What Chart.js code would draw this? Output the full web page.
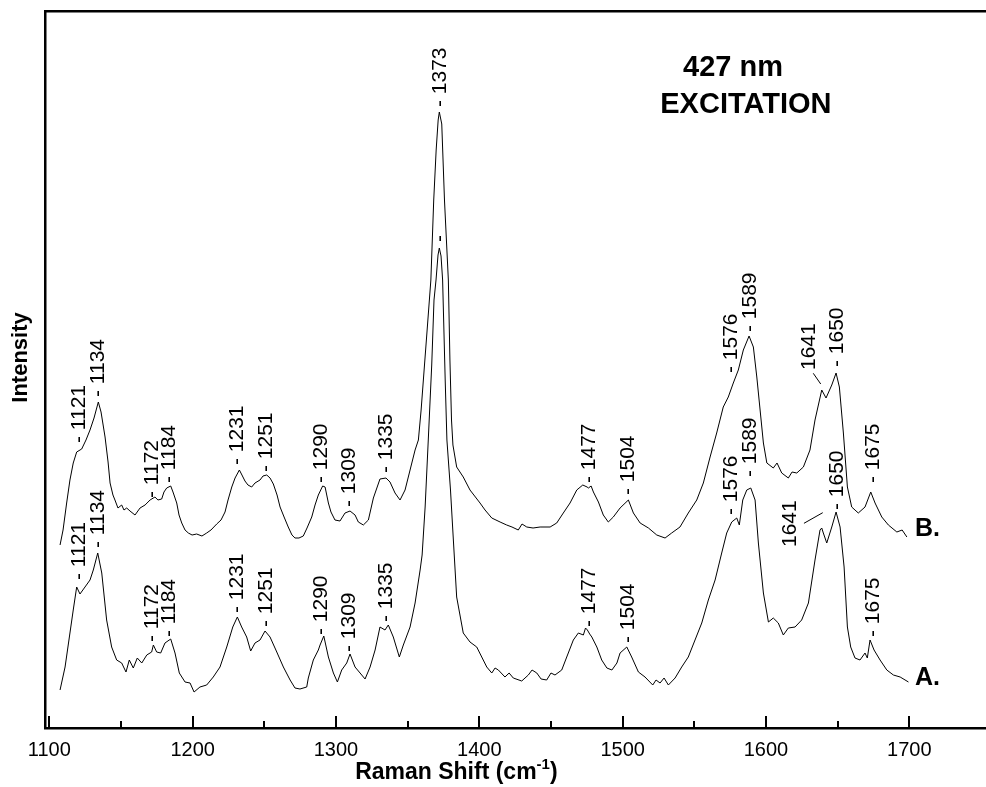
<!DOCTYPE html>
<html>
<head>
<meta charset="utf-8">
<script src="https://cdn.jsdelivr.net/npm/chart.js@4.4.1/dist/chart.umd.min.js"></script>
<style>
  html, body { margin: 0; padding: 0; background: #fff; }
  #wrap { width: 986px; height: 787px; position: relative; }
</style>
</head>
<body>
<div id="wrap"><canvas id="chart"></canvas></div>
<script>
const FONT = "'Liberation Sans', Arial, sans-serif";

// spectrum B (upper trace)
const B_SHIFT = [1107.5, 1109.6, 1112.1, 1114.4, 1116.7, 1119.1, 1122.6, 1125.6, 1128.4, 1131.2, 1134.2, 1136.1, 1138.9, 1141.0, 1142.4, 1144.4, 1145.8, 1147.9, 1150.5, 1152.1, 1154.0, 1156.3, 1159.8, 1163.3, 1166.8, 1170.3, 1173.7, 1175.8, 1178.4, 1180.0, 1181.9, 1184.7, 1186.3, 1188.9, 1190.5, 1192.4, 1194.7, 1197.0, 1199.6, 1202.8, 1206.5, 1209.8, 1212.8, 1216.8, 1219.8, 1222.6, 1224.7, 1227.3, 1229.6, 1232.6, 1234.4, 1236.5, 1238.6, 1241.2, 1243.5, 1247.0, 1249.1, 1251.7, 1254.0, 1256.3, 1258.9, 1261.0, 1263.8, 1266.7, 1269.3, 1271.4, 1274.2, 1277.2, 1279.8, 1283.1, 1285.4, 1287.7, 1290.7, 1292.4, 1294.7, 1296.5, 1299.3, 1302.8, 1306.3, 1309.8, 1313.3, 1315.6, 1319.1, 1322.6, 1326.1, 1330.7, 1334.9, 1337.7, 1341.2, 1344.7, 1348.2, 1351.7, 1355.2, 1357.5, 1359.4, 1361.5, 1363.6, 1366.2, 1368.2, 1369.9, 1371.3, 1372.1, 1373.8, 1375.7, 1378.4, 1379.5, 1380.6, 1381.6, 1384.2, 1388.8, 1393.5, 1400.5, 1404.0, 1408.7, 1414.5, 1419.1, 1422.8, 1427.2, 1429.8, 1433.1, 1437.5, 1442.4, 1449.4, 1454.0, 1458.6, 1463.3, 1468.0, 1472.2, 1475.2, 1476.1, 1478.0, 1479.6, 1483.1, 1486.5, 1490.0, 1493.5, 1498.2, 1504.0, 1507.5, 1512.2, 1518.0, 1523.8, 1529.6, 1534.2, 1540.0, 1545.8, 1551.7, 1556.3, 1561.0, 1565.6, 1570.2, 1573.7, 1577.2, 1580.7, 1584.2, 1588.2, 1591.2, 1593.6, 1595.9, 1598.2, 1600.6, 1605.1, 1607.7, 1611.0, 1615.6, 1618.2, 1621.5, 1626.1, 1630.7, 1634.2, 1638.9, 1641.9, 1645.9, 1648.9, 1651.2, 1654.0, 1656.8, 1659.8, 1664.4, 1669.1, 1673.1, 1676.1, 1680.8, 1685.4, 1691.3, 1695.0, 1698.3];
const B_INTENSITY = [183, 198, 225, 248, 265, 276, 279, 288, 298, 310, 326, 316, 291, 266, 245, 233, 228, 220, 223, 218, 220, 217, 213, 220, 223, 228, 231, 228, 229, 236, 240, 242, 236, 225, 213, 205, 198, 195, 193, 194, 192, 195, 198, 204, 208, 216, 228, 241, 250, 258, 253, 247, 243, 241, 245, 248, 252, 253, 250, 244, 233, 221, 211, 201, 193, 190, 190, 192, 200, 211, 223, 233, 242, 241, 225, 216, 208, 207, 215, 217, 213, 206, 203, 208, 230, 249, 250, 246, 235, 228, 238, 258, 278, 288, 318, 358, 398, 448, 528, 578, 608, 616, 604, 528, 448, 368, 308, 283, 261, 251, 238, 225, 218, 210, 206, 203, 201, 198, 204, 201, 200, 201, 201, 205, 215, 225, 238, 243, 241, 240, 242, 236, 226, 213, 206, 211, 220, 228, 215, 205, 200, 193, 190, 195, 201, 215, 228, 245, 271, 295, 321, 331, 345, 358, 378, 392, 381, 351, 318, 285, 265, 260, 265, 255, 250, 256, 255, 261, 278, 308, 338, 330, 343, 355, 341, 295, 241, 221, 215, 221, 236, 225, 211, 203, 196, 198, 191];

// spectrum A (lower trace)
const A_SHIFT = [1107.5, 1111.0, 1114.4, 1116.7, 1119.1, 1121.4, 1124.9, 1128.4, 1130.7, 1133.8, 1136.6, 1140.0, 1143.5, 1147.0, 1150.5, 1153.5, 1155.8, 1158.6, 1161.4, 1164.5, 1168.0, 1171.4, 1172.6, 1174.9, 1177.7, 1180.7, 1184.7, 1187.7, 1190.7, 1194.7, 1198.2, 1201.0, 1205.1, 1209.8, 1214.4, 1219.1, 1223.8, 1228.0, 1231.2, 1234.2, 1237.7, 1240.5, 1243.5, 1247.0, 1250.5, 1254.0, 1258.7, 1263.3, 1268.0, 1271.4, 1274.9, 1279.6, 1280.7, 1284.2, 1287.7, 1288.9, 1291.5, 1294.7, 1298.2, 1301.0, 1304.0, 1307.5, 1309.8, 1313.3, 1316.8, 1320.3, 1323.8, 1327.3, 1330.7, 1334.2, 1336.5, 1340.0, 1344.2, 1347.0, 1351.7, 1355.2, 1358.7, 1360.1, 1362.2, 1364.4, 1366.8, 1368.4, 1369.8, 1371.2, 1372.1, 1373.3, 1374.4, 1376.2, 1377.4, 1379.9, 1381.9, 1384.2, 1388.8, 1393.5, 1398.2, 1401.7, 1405.2, 1408.7, 1411.0, 1413.3, 1417.9, 1420.8, 1423.7, 1429.6, 1434.2, 1436.8, 1440.1, 1443.1, 1447.0, 1450.0, 1452.8, 1457.5, 1461.0, 1465.6, 1469.1, 1472.6, 1474.1, 1475.4, 1477.0, 1478.5, 1482.0, 1485.4, 1489.0, 1492.5, 1496.0, 1498.2, 1502.9, 1506.3, 1511.0, 1515.6, 1521.0, 1523.3, 1526.1, 1528.9, 1531.9, 1536.6, 1541.2, 1545.8, 1550.5, 1555.2, 1559.8, 1564.5, 1569.1, 1572.6, 1576.1, 1579.6, 1581.4, 1583.8, 1586.6, 1589.4, 1592.4, 1594.7, 1598.2, 1601.7, 1605.1, 1608.6, 1612.1, 1615.6, 1620.3, 1624.9, 1629.6, 1634.2, 1637.7, 1638.9, 1640.0, 1642.4, 1645.9, 1648.9, 1651.7, 1654.5, 1656.8, 1659.1, 1662.1, 1665.6, 1669.1, 1670.7, 1672.6, 1675.4, 1679.6, 1684.3, 1688.9, 1693.6, 1699.4];
const A_INTENSITY = [38, 61, 95, 118, 141, 134, 141, 148, 158, 175, 155, 108, 81, 68, 65, 56, 68, 60, 70, 65, 73, 76, 83, 76, 75, 85, 89, 75, 55, 46, 45, 36, 41, 43, 51, 61, 81, 101, 111, 101, 91, 77, 85, 88, 97, 91, 76, 61, 48, 40, 39, 41, 50, 68, 78, 83, 92, 71, 55, 46, 58, 65, 74, 61, 55, 49, 61, 78, 101, 98, 103, 91, 71, 83, 101, 125, 158, 173, 221, 288, 363, 428, 448, 473, 480, 472, 448, 348, 288, 238, 188, 131, 95, 86, 81, 71, 61, 55, 60, 58, 51, 55, 50, 47, 53, 58, 55, 49, 48, 55, 53, 58, 71, 88, 95, 93, 100, 98, 94, 91, 81, 68, 60, 58, 65, 75, 81, 71, 56, 51, 43, 48, 45, 50, 43, 50, 61, 71, 88, 105, 128, 148, 175, 195, 206, 210, 203, 228, 238, 240, 228, 185, 135, 106, 110, 105, 93, 100, 101, 108, 125, 168, 198, 200, 195, 185, 201, 216, 201, 161, 101, 81, 70, 68, 75, 70, 88, 78, 68, 58, 53, 51, 46];

const MAJOR_TICKS = [1100, 1200, 1300, 1400, 1500, 1600, 1700];
const MINOR_TICKS = [1150, 1250, 1350, 1450, 1550, 1650];

// peak labels: band position and the height the label starts at
const B_PEAKS = [1121, 1134, 1172, 1184, 1231, 1251, 1290, 1309, 1335, 1373, 1477, 1504, 1576, 1589, 1650, 1675];
const B_LABEL_LEVEL = [285, 331, 230, 245, 263, 256, 245, 221, 255, 621, 245, 233, 355, 396, 361, 245];
const A_PEAKS = [1121, 1134, 1172, 1184, 1231, 1251, 1290, 1309, 1335, 1373, 1477, 1504, 1576, 1589, 1650, 1675];
const A_LABEL_LEVEL = [148, 180, 86, 91, 115, 101, 93, 76, 106, 486, 101, 85, 213, 251, 218, 91];
const A_DASH_ONLY = [1373];

// 1641 labels sit aside, joined to the band by a short line
const LEADERS = [
  { text: '1641', at: [1630.2, 358], from: [1633.0, 354.7], to: [1638.2, 344] },
  { text: '1641', at: [1616.8, 181], from: [1626.5, 204.7], to: [1639.6, 215.3] },
];

const toPoints = (xs, ys) => xs.map((v, i) => ({ x: v, y: ys[i] }));

const decor = {
  id: 'decor',
  afterDraw(chart) {
    const { ctx, chartArea, scales: { x, y } } = chart;
    ctx.save();
    ctx.fillStyle = '#000';
    ctx.strokeStyle = '#000';

    // inward ticks on the bottom axis
    ctx.lineWidth = 2;
    const base = chartArea.bottom;
    const tick = (v, len) => {
      const px = Math.round(x.getPixelForValue(v));
      ctx.beginPath();
      ctx.moveTo(px, base);
      ctx.lineTo(px, base - len);
      ctx.stroke();
    };
    MAJOR_TICKS.forEach((v) => tick(v, 12));
    MINOR_TICKS.forEach((v) => tick(v, 7));

    // rotated peak labels
    ctx.font = `21px ${FONT}`;
    ctx.textAlign = 'left';
    ctx.textBaseline = 'middle';
    const vertical = (text, vx, vy) => {
      ctx.save();
      ctx.translate(x.getPixelForValue(vx), y.getPixelForValue(vy));
      ctx.rotate(-Math.PI / 2);
      ctx.fillText(text, 0, 0);
      ctx.restore();
    };
    B_PEAKS.forEach((p, i) => vertical(`- ${p}`, p, B_LABEL_LEVEL[i]));
    A_PEAKS.forEach((p, i) => vertical(A_DASH_ONLY.includes(p) ? '-' : `- ${p}`, p, A_LABEL_LEVEL[i]));

    ctx.lineWidth = 1;
    LEADERS.forEach((l) => {
      vertical(l.text, l.at[0], l.at[1]);
      ctx.beginPath();
      ctx.moveTo(x.getPixelForValue(l.from[0]), y.getPixelForValue(l.from[1]));
      ctx.lineTo(x.getPixelForValue(l.to[0]), y.getPixelForValue(l.to[1]));
      ctx.stroke();
    });

    // trace names and excitation note
    ctx.font = `bold 25px ${FONT}`;
    ctx.fillText('B.', x.getPixelForValue(1704), y.getPixelForValue(199));
    ctx.fillText('A.', x.getPixelForValue(1704), y.getPixelForValue(50));
    ctx.textAlign = 'center';
    ctx.font = `bold 29px ${FONT}`;
    ctx.fillText('427 nm', x.getPixelForValue(1577), y.getPixelForValue(660));
    ctx.fillText('EXCITATION', x.getPixelForValue(1586), y.getPixelForValue(623));

    // axis titles
    ctx.font = `bold 22px ${FONT}`;
    ctx.save();
    ctx.translate(21, (chartArea.top + chartArea.bottom) / 2 - 12);
    ctx.rotate(-Math.PI / 2);
    ctx.fillText('Intensity', 0, 0);
    ctx.restore();

    const main = 'Raman Shift (cm';
    const sup = '-1';
    const end = ')';
    ctx.textAlign = 'left';
    ctx.font = `bold 23px ${FONT}`;
    const w1 = ctx.measureText(main).width;
    const w3 = ctx.measureText(end).width;
    ctx.font = `bold 15px ${FONT}`;
    const w2 = ctx.measureText(sup).width;
    let sx = x.getPixelForValue(1384) - (w1 + w2 + w3) / 2;
    const sy = 773;
    ctx.font = `bold 23px ${FONT}`;
    ctx.fillText(main, sx, sy);
    sx += w1;
    ctx.font = `bold 15px ${FONT}`;
    ctx.fillText(sup, sx, sy - 8);
    sx += w2;
    ctx.font = `bold 23px ${FONT}`;
    ctx.fillText(end, sx, sy);

    ctx.restore();
  },
};

const frame = { display: true, color: '#000', width: 2.5 };

new Chart(document.getElementById('chart').getContext('2d'), {
  type: 'scatter',
  data: {
    datasets: [
      { label: 'B', data: toPoints(B_SHIFT, B_INTENSITY), showLine: true, borderColor: '#000', borderWidth: 1, pointRadius: 0, tension: 0 },
      { label: 'A', data: toPoints(A_SHIFT, A_INTENSITY), showLine: true, borderColor: '#000', borderWidth: 1, pointRadius: 0, tension: 0 },
    ],
  },
  options: {
    responsive: true,
    maintainAspectRatio: false,
    animation: false,
    layout: { padding: 0 },
    plugins: { legend: { display: false }, tooltip: { enabled: false } },
    scales: {
      x: {
        type: 'linear',
        position: 'bottom',
        min: 1097,
        max: 1753.5,
        grid: { display: false },
        border: frame,
        ticks: { color: '#000', font: { family: FONT, size: 20 }, padding: 2, maxRotation: 0, callback: (v) => String(v) },
        afterBuildTicks: (s) => { s.ticks = MAJOR_TICKS.map((v) => ({ value: v })); },
        afterFit: (s) => { s.height = 59; },
      },
      xTop: {
        type: 'linear',
        position: 'top',
        min: 1097,
        max: 1753.5,
        grid: { display: false },
        border: frame,
        ticks: { display: false },
        afterFit: (s) => { s.height = 11; },
      },
      y: {
        type: 'linear',
        position: 'left',
        min: 0,
        max: 717,
        grid: { display: false },
        border: frame,
        ticks: { display: false },
        afterFit: (s) => { s.width = 45; },
      },
    },
  },
  plugins: [decor],
});
</script>
</body>
</html>
